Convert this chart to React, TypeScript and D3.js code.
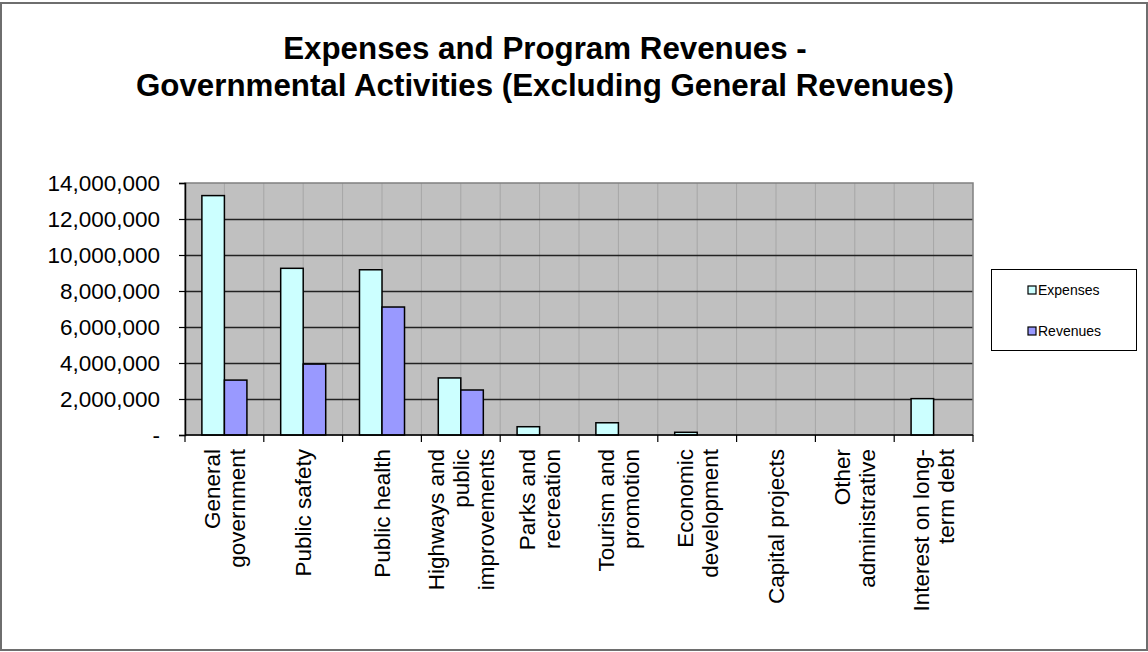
import React, { useRef, useEffect } from 'react';
import * as d3 from 'd3';

// Chart data
const categories: string[] = [
  'General\ngovernment',
  'Public safety',
  'Public health',
  'Highways and\npublic\nimprovements',
  'Parks and\nrecreation',
  'Tourism and\npromotion',
  'Economic\ndevelopment',
  'Capital projects',
  'Other\nadministrative',
  'Interest on long-\nterm debt',
];
const expenses: number[] = [13300000, 9260000, 9180000, 3170000, 460000, 680000, 150000, 0, 0, 2020000];
const revenues: number[] = [3050000, 3940000, 7110000, 2500000, 0, 0, 0, 0, 0, 0];
const seriesNames: string[] = ['Expenses', 'Revenues'];
const seriesColors: string[] = ['#CCFFFF', '#9999FF'];
const yTicks: number[] = [0, 2000000, 4000000, 6000000, 8000000, 10000000, 12000000, 14000000];
const titleLines: string[] = [
  'Expenses and Program Revenues -',
  'Governmental Activities (Excluding General Revenues)',
];

const WIDTH = 1148;
const HEIGHT = 652;
const FONT = '"Liberation Sans", Arial, sans-serif';

const App: React.FC = () => {
  const svgRef = useRef<SVGSVGElement | null>(null);

  useEffect(() => {
    if (!svgRef.current) return;
    const svg = d3.select(svgRef.current);
    svg.selectAll('*').remove();

    const plot = { left: 185, top: 183, right: 973, bottom: 435 };

    // outer frame
    svg
      .append('rect')
      .attr('x', 1)
      .attr('y', 3)
      .attr('width', 1146)
      .attr('height', 647)
      .attr('fill', '#fff')
      .attr('stroke', '#6e6e6e')
      .attr('stroke-width', 2);

    // title
    svg
      .append('text')
      .attr('text-anchor', 'middle')
      .attr('font-family', FONT)
      .attr('font-weight', 'bold')
      .attr('font-size', 31.3)
      .selectAll('tspan')
      .data(titleLines)
      .enter()
      .append('tspan')
      .attr('x', 545)
      .attr('y', (_, i) => 59 + i * 36.5)
      .text((d) => d);

    // scales
    const x0 = d3
      .scaleBand<number>()
      .domain(d3.range(categories.length))
      .range([plot.left, plot.right]);

    const x1 = d3
      .scaleBand<number>()
      .domain([0, 1])
      .range([0, x0.bandwidth()])
      .paddingOuter(0.75)
      .paddingInner(0);

    const y = d3.scaleLinear().domain([0, 14000000]).range([plot.bottom, plot.top]);

    // plot background
    svg
      .append('rect')
      .attr('x', plot.left)
      .attr('y', plot.top)
      .attr('width', plot.right - plot.left)
      .attr('height', plot.bottom - plot.top)
      .attr('fill', '#C0C0C0');

    // vertical gridlines (every half category)
    const vLines = d3.range(1, categories.length * 2);
    svg
      .append('g')
      .selectAll('line')
      .data(vLines)
      .enter()
      .append('line')
      .attr('x1', (d) => plot.left + (d * x0.step()) / 2)
      .attr('x2', (d) => plot.left + (d * x0.step()) / 2)
      .attr('y1', plot.top)
      .attr('y2', plot.bottom)
      .attr('stroke', '#a6a6a6')
      .attr('stroke-width', 1);

    // horizontal gridlines
    svg
      .append('g')
      .selectAll('line')
      .data(yTicks.slice(1, -1))
      .enter()
      .append('line')
      .attr('x1', plot.left)
      .attr('x2', plot.right)
      .attr('y1', (d) => Math.round(y(d)) + 0.5)
      .attr('y2', (d) => Math.round(y(d)) + 0.5)
      .attr('stroke', '#222')
      .attr('stroke-width', 1.3);

    // plot border
    svg
      .append('rect')
      .attr('x', plot.left)
      .attr('y', plot.top)
      .attr('width', plot.right - plot.left)
      .attr('height', plot.bottom - plot.top)
      .attr('fill', 'none')
      .attr('stroke', '#808080')
      .attr('stroke-width', 1.5);

    // bars
    const series = [expenses, revenues];
    series.forEach((vals, s) => {
      const items = vals.map((v, i) => ({ v, i })).filter((d) => d.v > 0);
      svg
        .append('g')
        .selectAll('rect')
        .data(items)
        .enter()
        .append('rect')
        .attr('x', (d) => (x0(d.i) as number) + (x1(s) as number))
        .attr('y', (d) => y(d.v))
        .attr('width', x1.bandwidth())
        .attr('height', (d) => plot.bottom - y(d.v))
        .attr('fill', seriesColors[s])
        .attr('stroke', '#000')
        .attr('stroke-width', 1.5);
    });

    // y axis
    const yAxis = svg
      .append('g')
      .attr('transform', `translate(${plot.left},0)`)
      .call(
        d3
          .axisLeft(y)
          .tickValues(yTicks)
          .tickSize(6)
          .tickPadding(19)
          .tickFormat((d) => ((d as number) === 0 ? '-' : d3.format(',')(d as number)))
      );
    yAxis.select('.domain').attr('stroke', '#000').attr('stroke-width', 1.5);
    yAxis.selectAll('.tick line').attr('stroke', '#000').attr('stroke-width', 1.2);
    yAxis
      .selectAll('text')
      .attr('font-family', FONT)
      .attr('font-size', 22.5)
      .attr('fill', '#000');

    // x axis line and ticks at category boundaries
    svg
      .append('line')
      .attr('x1', plot.left)
      .attr('x2', plot.right)
      .attr('y1', plot.bottom)
      .attr('y2', plot.bottom)
      .attr('stroke', '#000')
      .attr('stroke-width', 1.5);
    svg
      .append('g')
      .selectAll('line')
      .data(d3.range(categories.length + 1))
      .enter()
      .append('line')
      .attr('x1', (d) => plot.left + d * x0.step())
      .attr('x2', (d) => plot.left + d * x0.step())
      .attr('y1', plot.bottom)
      .attr('y2', plot.bottom + 7)
      .attr('stroke', '#000')
      .attr('stroke-width', 1.2);

    // category labels, rotated
    const lineH = 25;
    const labels = svg
      .append('g')
      .selectAll('text')
      .data(categories)
      .enter()
      .append('text')
      .attr('transform', (_, i) => `translate(${(x0(i) as number) + x0.bandwidth() / 2},449) rotate(-90)`)
      .attr('text-anchor', 'end')
      .attr('font-family', FONT)
      .attr('font-size', 22.5)
      .attr('fill', '#000');
    labels.each(function (d) {
      const lines = d.split('\n');
      const n = lines.length;
      d3.select(this)
        .selectAll('tspan')
        .data(lines)
        .enter()
        .append('tspan')
        .attr('x', 0)
        .attr('y', (_, j) => (j - (n - 1) / 2) * lineH + 8)
        .text((l) => l);
    });

    // legend
    const legend = svg.append('g');
    legend
      .append('rect')
      .attr('x', 991.5)
      .attr('y', 269.5)
      .attr('width', 145)
      .attr('height', 81)
      .attr('fill', '#fff')
      .attr('stroke', '#000')
      .attr('stroke-width', 1);
    seriesNames.forEach((name, i) => {
      const cy = 290 + i * 41;
      legend
        .append('rect')
        .attr('x', 1028)
        .attr('y', cy - 4)
        .attr('width', 8)
        .attr('height', 8)
        .attr('fill', seriesColors[i])
        .attr('stroke', '#000')
        .attr('stroke-width', 1.2);
      legend
        .append('text')
        .attr('x', 1038)
        .attr('y', cy + 5)
        .attr('font-family', FONT)
        .attr('font-size', 14)
        .attr('fill', '#000')
        .text(name);
    });
  }, []);

  return (
    <svg
      ref={svgRef}
      width={WIDTH}
      height={HEIGHT}
      style={{ position: 'absolute', left: 0, top: 0, background: '#fff' }}
    ></svg>
  );
};

export default App;
